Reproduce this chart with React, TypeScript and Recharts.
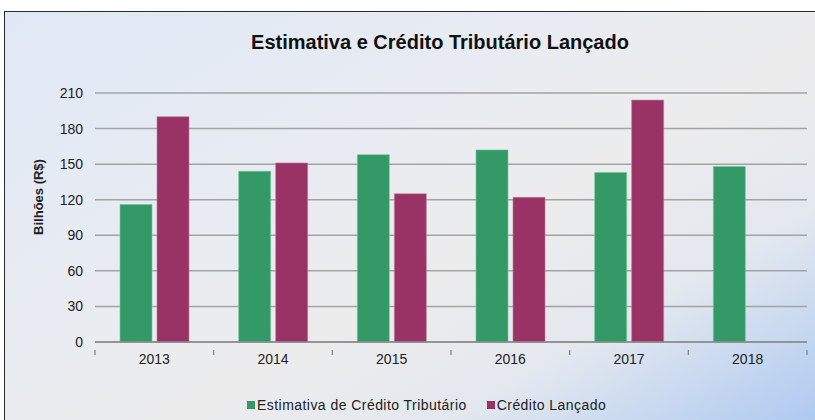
import { BarChart, Bar, XAxis, YAxis, CartesianGrid } from "recharts";

const years = ["2013", "2014", "2015", "2016", "2017", "2018"];
const estimativa = [116, 144, 158, 162, 143, 148];
const lancado = [190, 151, 125, 122, 204, null];
const yTicks = [0, 30, 60, 90, 120, 150, 180, 210];

const data = years.map((year, i) => ({
  year,
  estimativa: estimativa[i],
  lancado: lancado[i],
}));

const W = 815;
const H = 420;
const PLOT_LEFT = 95;
const PLOT_RIGHT = 807;
const BAND = (PLOT_RIGHT - PLOT_LEFT) / years.length;
const FONT = "'Liberation Sans', Arial, sans-serif";

function YearTick(props: any) {
  const { x, y, payload, index } = props;
  const left = x - BAND / 2;
  const right = x + BAND / 2;
  return (
    <g>
      <line x1={left} y1={y} x2={left} y2={y + 5} stroke="#7f7f7f" strokeWidth={1.2} />
      {index === years.length - 1 && (
        <line x1={right} y1={y} x2={right} y2={y + 5} stroke="#7f7f7f" strokeWidth={1.2} />
      )}
      <text x={x} y={y + 14} textAnchor="middle" fontSize={14} fill="#222" fontFamily={FONT}>
        {payload.value}
      </text>
    </g>
  );
}

export default function App() {
  return (
    <div style={{ position: "absolute", left: 0, top: 0, width: W, height: H, overflow: "hidden", fontFamily: FONT }}>
      <div
        style={{
          position: "absolute",
          left: 4,
          top: 11,
          width: 840,
          height: 440,
          border: "1px solid #2a2a2a",
          background:
            "linear-gradient(150deg, #e0e8f5 0%, #e8ecf2 35%, #ececec 55%, #e3e8ef 72%, #a2c3f1 100%)",
        }}
      />
      <div
        style={{
          position: "absolute",
          left: 0,
          width: 880,
          top: 31,
          textAlign: "center",
          fontSize: 20,
          fontWeight: "bold",
          color: "#111",
        }}
      >
        Estimativa e Crédito Tributário Lançado
      </div>
      <div
        style={{
          position: "absolute",
          left: 38,
          top: 197,
          transform: "translate(-50%, -50%) rotate(-90deg)",
          fontSize: 13,
          fontWeight: "bold",
          color: "#222",
          whiteSpace: "nowrap",
        }}
      >
        Bilhões (R$)
      </div>
      <div style={{ position: "absolute", left: 0, top: 0 }}>
        <BarChart
          width={W}
          height={H}
          data={data}
          margin={{ top: 93, right: W - PLOT_RIGHT, left: 0, bottom: 48 }}
          barSize={32}
          barGap={5}
        >
          <CartesianGrid vertical={false} stroke="#a3a3a3" strokeWidth={1.5} />
          <XAxis
            dataKey="year"
            height={30}
            axisLine={{ stroke: "#8a8a8a", strokeWidth: 1.5 }}
            tickLine={false}
            tick={<YearTick />}
            interval={0}
          />
          <YAxis
            width={PLOT_LEFT}
            domain={[0, 210]}
            ticks={yTicks}
            axisLine={false}
            tickLine={false}
            tickSize={0}
            tickMargin={12}
            tick={{ fontSize: 14, fill: "#222", fontFamily: FONT }}
            interval={0}
          />
          <Bar dataKey="estimativa" fill="#339966" stroke="#7cc59e" strokeWidth={0.6} isAnimationActive={false} />
          <Bar dataKey="lancado" fill="#993366" stroke="#c27a9c" strokeWidth={0.6} isAnimationActive={false} />
        </BarChart>
      </div>
      <div
        style={{
          position: "absolute",
          top: 397,
          left: 247,
          display: "flex",
          alignItems: "center",
          fontSize: 14,
          letterSpacing: 0.45,
          color: "#222",
          whiteSpace: "nowrap",
        }}
      >
        <span style={{ width: 8, height: 8, background: "#339966", marginRight: 2, display: "inline-block" }} />
        <span>Estimativa de Crédito Tributário</span>
        <span style={{ width: 8, height: 8, background: "#993366", marginLeft: 20, marginRight: 2, display: "inline-block" }} />
        <span>Crédito Lançado</span>
      </div>
    </div>
  );
}
